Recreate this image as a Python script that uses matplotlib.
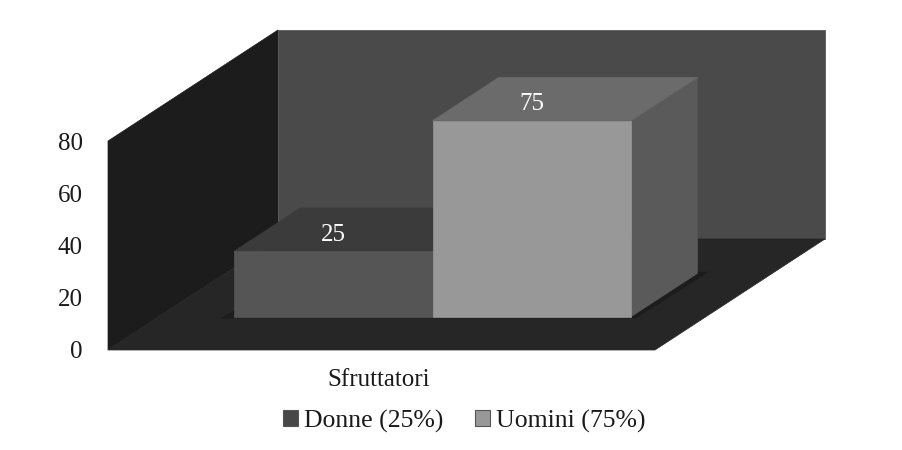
import matplotlib
matplotlib.use("Agg")
import matplotlib.pyplot as plt
from matplotlib.patches import Patch, Polygon

# --- Data ---
categories = ["Sfruttatori"]
series_names = ["Donne (25%)", "Uomini (75%)"]
series_values = [25, 75]
y_ticks = [0, 20, 40, 60, 80]

# --- Colours: front, top, side of each box ---
box_colors = [("#555555", "#3b3b3b", "#4a4a4a"), ("#989898", "#6b6b6b", "#5a5a5a")]
legend_colors = ["#474747", "#989898"]
wall_left = "#1c1c1c"
wall_back = "#4a4a4a"
floor = "#262626"

# oblique projection, depth 1 is the back wall
depth_x = 170 / 547
depth_y = 42.5
y_max = y_ticks[-1]

# bar layout in category units
gap = 0.137
bar_w = (1 - 2 * gap) / 2
bar_d0, bar_d1 = 0.30, 0.69


def proj(x, y, d):
    return (x + depth_x * d, y + depth_y * d)


def face(ax, pts, color, z):
    # edge in the same colour so no light seam shows between faces
    ax.add_patch(Polygon([proj(*p) for p in pts], closed=True, facecolor=color,
                         edgecolor=color, linewidth=0.5, zorder=z, clip_on=False))


fig = plt.figure(figsize=(9.03, 4.5), dpi=100)
plt.rcParams["font.family"] = ["Liberation Serif", "DejaVu Serif"]
ax = fig.add_axes([108 / 903, 1 - 350 / 450, 547 / 903, 209 / 450])
ax.set_xlim(0, 1)
ax.set_ylim(0, y_max)
for s in ax.spines.values():
    s.set_visible(False)
ax.patch.set_alpha(0)

# walls and floor
face(ax, [(0, 0, 0), (0, 0, 1), (0, y_max, 1), (0, y_max, 0)], wall_left, 1)
face(ax, [(0, 0, 1), (1, 0, 1), (1, y_max, 1), (0, y_max, 1)], wall_back, 1)
face(ax, [(0, 0, 0), (1, 0, 0), (1, 0, 1), (0, 0, 1)], floor, 1)

# soft shadow on the floor under the boxes
x_end = gap + 2 * bar_w
face(ax, [(gap - 0.018, 0, bar_d0 - 0.012), (x_end + 0.012, 0, bar_d0 - 0.012),
          (x_end + 0.016, 0, bar_d1 + 0.012), (gap, 0, bar_d1)], "#1c1c1c", 2)

# boxes
for i, v in enumerate(series_values):
    x0 = gap + i * bar_w
    x1 = x0 + bar_w
    front, top, side = box_colors[i]
    z = 3 + i
    face(ax, [(x1, 0, bar_d0), (x1, 0, bar_d1), (x1, v, bar_d1), (x1, v, bar_d0)], side, z)
    face(ax, [(x0, v, bar_d0), (x1, v, bar_d0), (x1, v, bar_d1), (x0, v, bar_d1)], top, z)
    face(ax, [(x0, 0, bar_d0), (x1, 0, bar_d0), (x1, v, bar_d0), (x0, v, bar_d0)], front, z)
    ax.annotate(str(v), proj((x0 + x1) / 2, v, bar_d0), xytext=(0, 12),
                textcoords="offset points", ha="center", va="center",
                color="white", fontsize=18, zorder=10, annotation_clip=False)

ax.set_yticks(y_ticks)
ax.set_yticklabels([str(t) for t in y_ticks], fontsize=18, color="#1a1a1a")
ax.set_xticks([0.4955])
ax.set_xticklabels(categories, fontsize=18, color="#1a1a1a")
ax.tick_params(axis="y", length=0, pad=18)
ax.tick_params(axis="x", length=0, pad=14)

handles = [Patch(facecolor=c, edgecolor="#555555", linewidth=0.8) for c in legend_colors]
fig.legend(handles, series_names, loc="center", bbox_to_anchor=(464 / 903, 1 - 421 / 450),
           ncol=2, frameon=False, fontsize=18.5, handlelength=0.6, handleheight=0.6,
           handletextpad=0.2, columnspacing=1.25, labelcolor="#1a1a1a")

fig.savefig("out.png", dpi=100, facecolor="white")
